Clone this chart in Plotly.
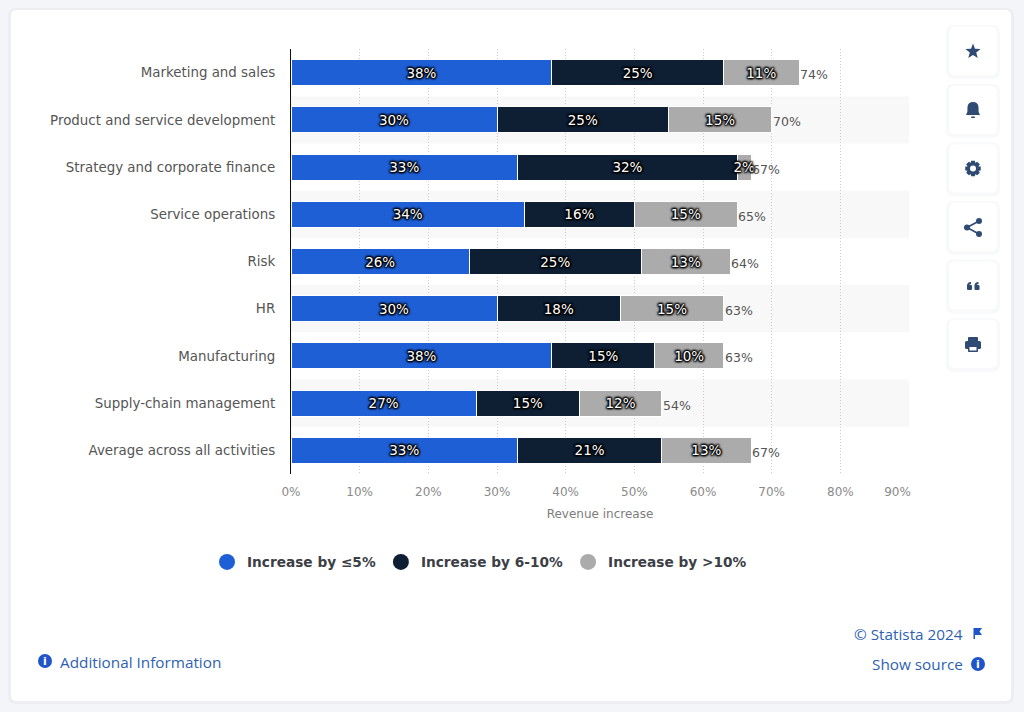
import math
import plotly.graph_objects as go

categories = ["Marketing and sales", "Product and service development", "Strategy and corporate finance",
              "Service operations", "Risk", "HR", "Manufacturing", "Supply-chain management",
              "Average across all activities"]
low = [38, 30, 33, 34, 26, 30, 38, 27, 33]
mid = [25, 25, 32, 16, 25, 18, 15, 15, 21]
high = [11, 15, 2, 15, 13, 15, 10, 12, 13]
totals = [74, 70, 67, 65, 64, 63, 63, 54, 67]
series_names = ["Increase by ≤5%", "Increase by 6-10%", "Increase by >10%"]
x_ticks = [0, 10, 20, 30, 40, 50, 60, 70, 80, 90]
# the last label sits left of its gridline, the nbsp run pushes it there
x_tick_labels = ["0%", "10%", "20%", "30%", "40%", "50%", "60%", "70%", "80%", "90%\u00a0\u00a0\u00a0\u00a0\u00a0\u00a0"]

BLUE = "#1f5fd6"
DARK = "#0f1f33"
GREY = "#ababab"
NAVY = "#2f4b73"
LINK = "#2f5fb3"
LABEL_FONT = "DejaVu Sans"
FOOT_FONT = "Open Sans"

# plot area in page pixels
LEFT, RIGHT, TOP, BOTTOM = 291, 909, 49, 474


def px(x):
    return (x - LEFT) / (RIGHT - LEFT)


def py(y):
    return (BOTTOM - y) / (BOTTOM - TOP)


def pt(x, y):
    return f"{px(x):.5f},{py(y):.5f}"


def path_shape(path, color, layer="above"):
    return dict(type="path", xref="paper", yref="paper", path=path, fillcolor=color,
                line=dict(width=0), layer=layer)


def round_rect(x0, y0, x1, y1, r, color, layer="below"):
    p = (f"M{pt(x0 + r, y0)} L{pt(x1 - r, y0)} Q{pt(x1, y0)} {pt(x1, y0 + r)} "
         f"L{pt(x1, y1 - r)} Q{pt(x1, y1)} {pt(x1 - r, y1)} "
         f"L{pt(x0 + r, y1)} Q{pt(x0, y1)} {pt(x0, y1 - r)} "
         f"L{pt(x0, y0 + r)} Q{pt(x0, y0)} {pt(x0 + r, y0)} Z")
    return path_shape(p, color, layer)


def polygon(points, color):
    return path_shape("M" + " L".join(pt(x, y) for x, y in points) + " Z", color)


def circle(cx, cy, r, color):
    return dict(type="circle", xref="paper", yref="paper", x0=px(cx - r), x1=px(cx + r),
                y0=py(cy + r), y1=py(cy - r), fillcolor=color, line=dict(width=0), layer="above")


def line(x0, y0, x1, y1, color, width):
    return dict(type="line", xref="paper", yref="paper", x0=px(x0), x1=px(x1), y0=py(y0), y1=py(y1),
                line=dict(color=color, width=width), layer="above")


def note(x, y, text, anchor, color=LINK, size=15.3, font=FOOT_FONT):
    return dict(xref="paper", yref="paper", x=px(x), y=py(y), text=text, showarrow=False, xanchor=anchor,
                yanchor="middle", font=dict(family=font, size=size, color=color))


fig = go.Figure()

# stacked bars
for vals, color in zip([low, mid, high], [BLUE, DARK, GREY]):
    fig.add_trace(go.Bar(
        y=categories, x=vals, orientation="h", marker=dict(color=color, line=dict(color="white", width=1)),
        text=[f"{v}%" for v in vals], textposition="inside", insidetextanchor="middle", textangle=0,
        constraintext="none", cliponaxis=False, showlegend=False, hoverinfo="skip",
        textfont=dict(family=LABEL_FONT, size=13.5, color="white",
                      shadow="0 0 1px #000, 0 0 2px #000, 0 0 2px #000, 0 0 3px #000, 1px 1px 2px #000, "
                             "-1px -1px 2px #000, 1px -1px 2px #000, -1px 1px 2px #000"),
    ))

# legend entries with round markers
for name, color in zip(series_names, [BLUE, DARK, GREY]):
    fig.add_trace(go.Scatter(x=[None], y=[None], mode="markers", name=name,
                             marker=dict(color=color, size=16, symbol="circle")))

shapes = []
# page card
shapes.append(round_rect(8, 8, 1014, 704, 8, "#eceef2"))
shapes.append(round_rect(11, 10, 1011, 701, 6, "#ffffff"))

# striped rows
for i in range(1, len(categories), 2):
    shapes.append(dict(type="rect", xref="paper", yref="y", x0=0, x1=1, y0=i - 0.5, y1=i + 0.5,
                       fillcolor="#f8f8f8", line=dict(width=0), layer="below"))

# side buttons
button_tops = [27, 86, 144.5, 203, 261.5, 320]
for top in button_tops:
    shapes.append(round_rect(946, top - 2, 1000, top + 52, 8, "#f8f9fb"))
    shapes.append(round_rect(949, top, 997, top + 48, 6, "#ffffff"))

# star
star = []
for k in range(10):
    r = 8 if k % 2 == 0 else 3.4
    a = -math.pi / 2 + k * math.pi / 5
    star.append((973 + r * math.cos(a), 51.5 + r * math.sin(a)))
shapes.append(polygon(star, NAVY))

# bell
shapes.append(path_shape(
    f"M{pt(966, 115)} Q{pt(968, 112)} {pt(967.5, 107)} Q{pt(968, 102)} {pt(973, 102)} "
    f"Q{pt(978, 102)} {pt(978.5, 107)} Q{pt(978, 112)} {pt(980, 115)} Z", NAVY))
shapes.append(round_rect(971, 116.5, 975, 118, 0.7, NAVY, "above"))

# gear
gear = []
for k in range(8):
    a = k * math.pi / 4
    for da, r in [(-0.42, 5.8), (-0.24, 8), (0.24, 8), (0.42, 5.8)]:
        gear.append((973 + r * math.cos(a + da), 168.5 + r * math.sin(a + da)))
shapes.append(polygon(gear, NAVY))
shapes.append(circle(973, 168.5, 3, "#ffffff"))

# share
shapes.append(line(979, 221, 967, 227.5, NAVY, 1.6))
shapes.append(line(967, 227.5, 979, 234, NAVY, 1.6))
shapes.append(circle(979, 221, 3, NAVY))
shapes.append(circle(967, 227.5, 3, NAVY))
shapes.append(circle(979, 234, 3, NAVY))

# quote marks
for qx in [967, 974.5]:
    shapes.append(round_rect(qx, 285, qx + 5, 290, 1, NAVY, "above"))
    shapes.append(path_shape(f"M{pt(qx, 286)} Q{pt(qx, 282)} {pt(qx + 4, 282)} L{pt(qx + 4, 284)} "
                             f"Q{pt(qx + 2, 284)} {pt(qx + 2, 286)} Z", NAVY))

# printer
shapes.append(round_rect(965, 341, 981, 349, 1.5, NAVY, "above"))
shapes.append(round_rect(968, 337, 978, 343, 0.8, NAVY, "above"))
shapes.append(round_rect(968, 346, 978, 352, 0.8, NAVY, "above"))
shapes.append(dict(type="rect", xref="paper", yref="paper", x0=px(969.5), x1=px(976.5), y0=py(350.5), y1=py(347),
                   fillcolor="#ffffff", line=dict(width=0), layer="above"))

# footer icons
shapes.append(circle(45, 661, 7, "#1f55c8"))
shapes.append(circle(978, 664, 7, "#1f55c8"))
shapes.append(polygon([(973.5, 628), (982, 628), (979.5, 631.5), (982, 635), (975, 635), (975, 639), (973.5, 639)],
                      "#1f55c8"))

annotations = [
    note(57.5, 662, "Additional Information", "left"),
    note(965, 633.5, "© Statista 2024", "right"),
    note(965, 664, "Show source", "right"),
    note(45, 661, "<b>i</b>", "center", "white", 11, LABEL_FONT),
    note(978, 664, "<b>i</b>", "center", "white", 11, LABEL_FONT),
]

# totals at the end of each bar
for cat, total in zip(categories, totals):
    annotations.append(dict(x=total, y=cat, xref="x", yref="y", text=f"{total}%", showarrow=False,
                            xanchor="left", yanchor="middle", xshift=-1, yshift=-2,
                            font=dict(family=LABEL_FONT, size=12.5, color="#555555")))

fig.update_layout(
    width=1024, height=712, autosize=False,
    margin=dict(l=LEFT, r=1024 - RIGHT, t=TOP, b=712 - BOTTOM, pad=0),
    paper_bgcolor="#f3f5f8", plot_bgcolor="rgba(0,0,0,0)",
    barmode="stack", bargap=0.45,
    shapes=shapes, annotations=annotations,
    font=dict(family=LABEL_FONT),
    legend=dict(orientation="h", traceorder="normal", x=px(207), y=py(562), xanchor="left", yanchor="middle",
                itemwidth=30, bgcolor="rgba(0,0,0,0)", itemclick=False, itemdoubleclick=False,
                font=dict(family=LABEL_FONT, size=13.7, color="#3c4046", weight="bold")),
    xaxis=dict(range=[0, 90], tickvals=x_ticks, ticktext=x_tick_labels, showgrid=True,
               gridcolor="#c9c9c9", griddash="1px,2px", gridwidth=1, zeroline=False, showline=False,
               ticks="outside", ticklen=7, tickcolor="rgba(0,0,0,0)",
               tickfont=dict(family=LABEL_FONT, size=12, color="#8a8a8a"),
               title=dict(text="Revenue increase", standoff=11,
                          font=dict(family=LABEL_FONT, size=12, color="#7d7d7d"))),
    yaxis=dict(categoryorder="array", categoryarray=categories, autorange=False, range=[8.5, -0.5],
               showgrid=False, zeroline=False, showline=True, linecolor="#111111", linewidth=1.2,
               ticks="outside", ticklen=12, tickcolor="rgba(0,0,0,0)",
               tickfont=dict(family=LABEL_FONT, size=13.4, color="#555555")),
)

# the page's default body margin would push the chart off the window
fig.write_html("out.html", config={"displayModeBar": False}, post_script="document.body.style.margin = '0';")
